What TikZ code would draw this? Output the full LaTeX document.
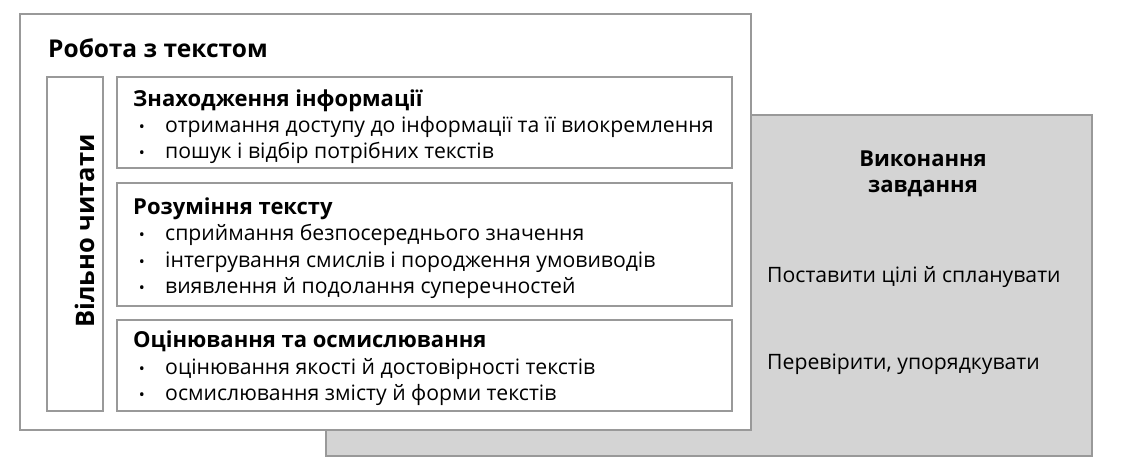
\documentclass[tikz,border=0pt]{standalone}
\usepackage{fontspec}
\setmainfont{Open Sans}
\begin{document}
\begin{tikzpicture}[x=1pt,y=-1pt,
  frame/.style={draw=black!40,line width=1.1pt},
  head/.style={anchor=base west,inner sep=0pt,font=\bfseries\fontsize{22}{25}\selectfont},
  item/.style={anchor=base west,inner sep=0pt,font=\fontsize{21.2}{24}\selectfont},
  dot/.style={anchor=base,inner sep=0pt,font=\fontsize{16}{18}\selectfont}]
\useasboundingbox (0,0) rectangle (1122,465);
\fill[white] (0,0) rectangle (1122,465);
% gray box
\draw[frame,fill=black!17] (326,115) rectangle (1092,456);
% outer white box
\draw[frame,fill=white] (20,14) rectangle (751,430);
\node[anchor=base west,inner sep=0pt,font=\bfseries\fontsize{24.5}{27}\selectfont] (title) at (48,58) {Робота з текстом};
% vertical box
\draw[frame] (47,77) rectangle (103,411);
\node[rotate=90,anchor=base,inner sep=0pt,font=\bfseries\fontsize{25.5}{28}\selectfont] (vt) at (94,231) {Вільно читати};
% section boxes
\draw[frame] (117,77) rectangle (732,168);
\draw[frame] (117,183) rectangle (732,306);
\draw[frame] (117,320) rectangle (732,411);
% box 1
\node[head] (h1) at (133,107) {Знаходження інформації};
\node[dot] (d11) at (142,133) {•};
\node[item] (t11) at (165,133) {отримання доступу до інформації та її виокремлення};
\node[dot] (d12) at (142,159) {•};
\node[item] (t12) at (165,159) {пошук і відбір потрібних текстів};
% box 2
\node[head] (h2) at (133,215) {Розуміння тексту};
\node[dot] (d21) at (142,241) {•};
\node[item] (t21) at (165,241) {сприймання безпосереднього значення};
\node[dot] (d22) at (142,267) {•};
\node[item] (t22) at (165,267) {інтегрування смислів і породження умовиводів};
\node[dot] (d23) at (142,294) {•};
\node[item] (t23) at (165,294) {виявлення й подолання суперечностей};
% box 3
\node[head] (h3) at (133,347) {Оцінювання та осмислювання};
\node[dot] (d31) at (142,374) {•};
\node[item] (t31) at (165,374) {оцінювання якості й достовірності текстів};
\node[dot] (d32) at (142,400) {•};
\node[item] (t32) at (165,400) {осмислювання змісту й форми текстів};
% right
\node[anchor=base,inner sep=0pt,font=\bfseries\fontsize{22}{25}\selectfont] (r1) at (923,167) {Виконання};
\node[anchor=base,inner sep=0pt,font=\bfseries\fontsize{22}{25}\selectfont] (r2) at (923,193) {завдання};
\node[item] (r3) at (767,283) {Поставити цілі й спланувати};
\node[item] (r4) at (767,369) {Перевірити, упорядкувати};
\end{tikzpicture}
\end{document}
